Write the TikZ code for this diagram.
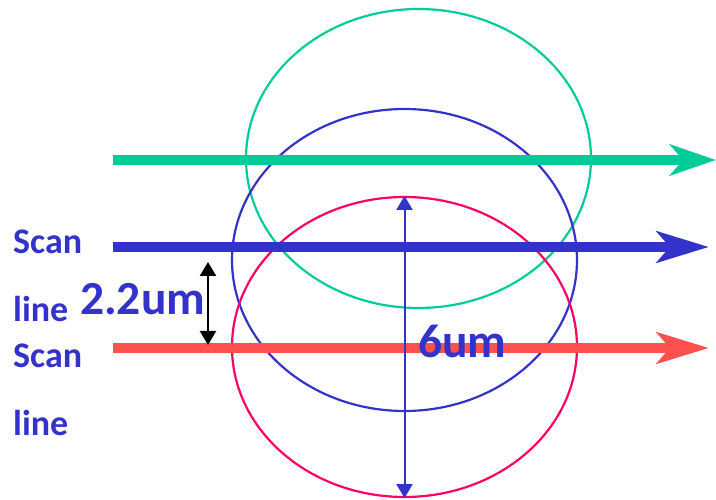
\documentclass[tikz,border=0pt]{standalone}
\usepackage{fontspec}
\setmainfont{Carlito}
\usepackage{tikz}
\usetikzlibrary{positioning,arrows.meta,shapes.geometric}
\definecolor{cTeal}{HTML}{00CC99}
\definecolor{cBlue}{HTML}{3333CC}
\definecolor{cPink}{HTML}{FF0066}
\definecolor{cRed} {HTML}{FF5050}
\tikzset{
  spot/.style ={ellipse,draw,line width=2.2pt,minimum width=345pt,inner sep=0pt},
  sline/.style={line width=10pt},
  stip/.style ={-{Stealth[length=#1,width=31pt,inset=13pt]}},
  slab/.style ={font=\bfseries\fontsize{36}{36}\selectfont,text=cBlue,
                anchor=base west,inner sep=0pt},
  sdim/.style ={font=\bfseries\fontsize{47.5}{47.5}\selectfont,text=cBlue,
                anchor=base west,inner sep=0pt},
  dar/.style  ={{Triangle[length=14pt,width=16pt]}-{Triangle[length=14pt,width=16pt]}},
}
\begin{document}
\begin{tikzpicture}[x=1pt,y=-1pt]
    \useasboundingbox (0,0) rectangle (716,500);
    % focal spots
    \node[spot,draw=cTeal,minimum height=299pt] (spT) at (418.5,158.5) {};
    \node[spot,draw=cBlue,minimum height=302pt] (spB) at (404.5,260) {};
    \node[spot,draw=cPink,minimum height=300pt] (spP) at (404.5,347) {};
    % scan lines
    \coordinate (t0) at (113,160); \coordinate (t1) at (716,160);
    \coordinate (b0) at (113,247); \coordinate (b1) at (709,247);
    \coordinate (r0) at (113,348); \coordinate (r1) at (709,348);
    \draw[sline,cTeal,stip=46pt] (t0) -- (t1);
    \draw[sline,cBlue,stip=52pt] (b0) -- (b1);
    \draw[sline,cRed,stip=52pt] (r0) -- (r1);
    \draw[dar,cBlue,line width=2pt] (spP.north) -- (spP.south);
    \coordinate (g0) at (208,262); \coordinate (g1) at (208,345);
    \draw[dar,black,line width=2.5pt] (g0) -- (g1);
    % labels
    \node[slab] (scanA) at (13,254) {Scan};
    \node[slab] (lineA) at (13,322) {line};
    \node[slab] (scanB) at (13,367) {Scan};
    \node[slab] (lineB) at (13,435) {line};
    \node[sdim] (gap) at (80,315) {2.2um};
    \node[sdim] (wid) at (418,357) {6um};
  \end{tikzpicture}
\end{document}
